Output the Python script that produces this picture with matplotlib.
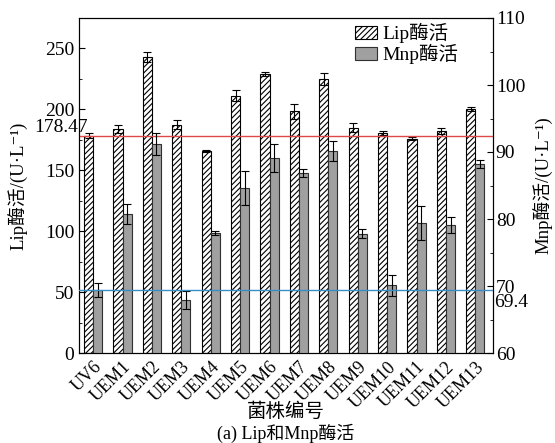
import matplotlib
matplotlib.use("Agg")
import matplotlib.pyplot as plt
import numpy as np
from matplotlib.ticker import MultipleLocator

plt.rcParams['font.family'] = ['Liberation Serif', 'Noto Sans CJK SC', 'DejaVu Serif']
plt.rcParams['hatch.linewidth'] = 0.8

# data
strains = ["UV6", "UEM1", "UEM2", "UEM3", "UEM4", "UEM5", "UEM6",
           "UEM7", "UEM8", "UEM9", "UEM10", "UEM11", "UEM12", "UEM13"]
lip = [178.47, 184, 243, 187.5, 165.5, 211, 229, 198.5, 225, 185, 180.5, 176, 182, 200.5]
lip_err = [2.0, 3.0, 4.0, 3.5, 0.8, 4.5, 2.0, 6.0, 5.0, 3.5, 1.5, 1.0, 2.5, 1.5]
mnp = [69.4, 80.7, 91.2, 67.9, 77.9, 84.6, 89.1, 86.9, 90.1, 77.8, 70.1, 79.4, 79.1, 88.2]
mnp_err = [1.1, 1.5, 1.6, 1.4, 0.3, 2.5, 2.1, 0.6, 1.5, 0.7, 1.6, 2.5, 1.2, 0.6]
lip_ref = 178.47
mnp_ref = 69.4

x = np.arange(len(strains))
w = 0.31

fig = plt.figure(figsize=(5.55, 4.43), dpi=100)
ax = fig.add_axes([79/555, 1-353/443, 414/555, 335/443])
ax2 = ax.twinx()

ax.bar(x - w/2, lip, w, yerr=lip_err, color='white', edgecolor='black',
       hatch='//////', linewidth=0.8, capsize=3, error_kw=dict(elinewidth=0.8, capthick=0.8),
       label='Lip酶活')
ax2.bar(x + w/2, mnp, w, yerr=mnp_err, color='#a0a0a0', edgecolor='#303030',
        linewidth=0.8, capsize=3, error_kw=dict(elinewidth=0.8, capthick=0.8),
        label='Mnp酶活')

ax.axhline(lip_ref, color='#e04848', linewidth=1.0, zorder=5)
ax2.axhline(mnp_ref, color='#3a8cc8', linewidth=1.0, zorder=5)

ax.set_xlim(-0.48, 13.6)
ax.set_ylim(0, 275)
ax2.set_ylim(60, 110)

ax.yaxis.set_major_locator(MultipleLocator(50))
ax.yaxis.set_minor_locator(MultipleLocator(25))
ax2.yaxis.set_major_locator(MultipleLocator(10))
ax2.yaxis.set_minor_locator(MultipleLocator(5))

ax.set_xticks(x)
ax.set_xticklabels(strains, rotation=45, ha='right', rotation_mode='anchor', fontsize=13)
ax.tick_params(axis='x', length=0, pad=4)
ax.tick_params(axis='y', which='major', direction='in', length=4, labelsize=14)
ax.tick_params(axis='y', which='minor', direction='in', length=2)
ax2.tick_params(axis='y', which='major', direction='in', length=4, labelsize=14, pad=2)
ax2.tick_params(axis='y', which='minor', direction='in', length=2)

ax.text(0.022, lip_ref, "178.47", transform=ax.get_yaxis_transform(),
        ha='right', va='bottom', fontsize=14)
ax2.text(1.003, mnp_ref - 1.9, "69.4", transform=ax2.get_yaxis_transform(),
         ha='left', va='center', fontsize=14)

ax.set_ylabel("Lip酶活/(U·L⁻¹)", fontsize=13.5)
ax.yaxis.set_label_coords(-0.125, 0.5)
ax2.set_ylabel("Mnp酶活/(U·L⁻¹)", fontsize=13.5)
ax2.yaxis.set_label_coords(1.095, 0.5)
fig.text(0.5 * (79 + 493) / 555, 1 - 412/443, "菌株编号", ha='center', va='center', fontsize=14)
fig.text(0.5 * (79 + 493) / 555, 1 - 433/443, "(a) Lip和Mnp酶活", ha='center', va='center', fontsize=13)

h1, l1 = ax.get_legend_handles_labels()
h2, l2 = ax2.get_legend_handles_labels()
ax2.legend(h1 + h2, l1 + l2, loc='upper right', bbox_to_anchor=(0.95, 1.025), frameon=False,
           fontsize=14, handlelength=1.1, handleheight=0.6, handletextpad=0.3,
           labelspacing=0.05, borderpad=0.2)

fig.savefig("out.png", dpi=100)
